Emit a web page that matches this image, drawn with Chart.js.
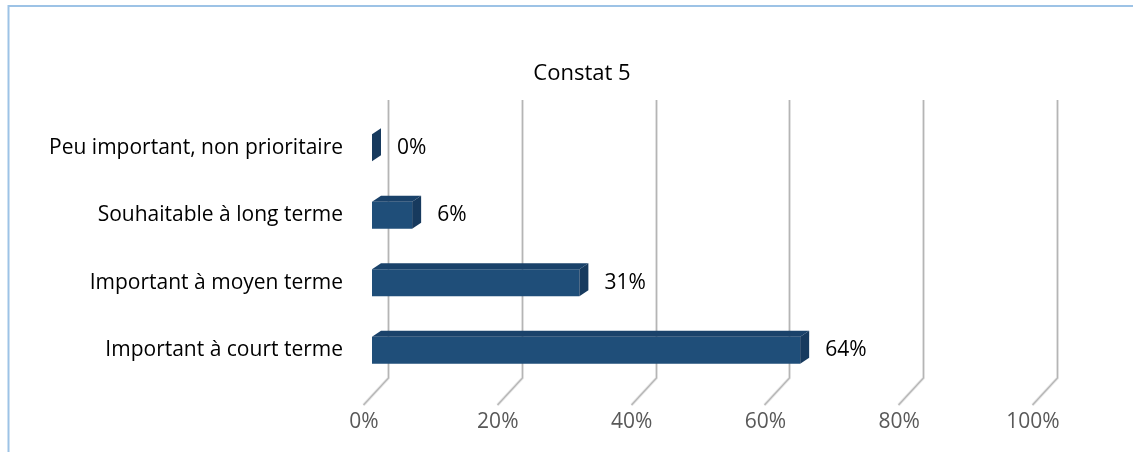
<!DOCTYPE html>
<html>
<head>
<meta charset="utf-8">
<script src="https://cdn.jsdelivr.net/npm/chart.js@4"></script>
<style>
  html, body { margin: 0; padding: 0; background: #fff; }
  #wrap { width: 1133px; height: 452px; }
</style>
</head>
<body>
<div id="wrap"><canvas id="barChart" width="1133" height="452"></canvas></div>
<script>
var title = 'Constat 5';
var categories = ['Peu important, non prioritaire', 'Souhaitable à long terme', 'Important à moyen terme', 'Important à court terme'];
var values = [0, 6, 31, 64];
var tickValues = [0, 20, 40, 60, 80, 100];

var FONT = '"Open Sans"';

// frame, title, gridlines in perspective and 3D faces of the bars
var depthPlugin = {
	id: 'depth',
	beforeDraw: function(chart) {
		var ctx = chart.ctx;
		ctx.save();
		ctx.fillStyle = '#ffffff';
		ctx.fillRect(0, 0, chart.width, chart.height);
		ctx.strokeStyle = '#9dc3e6';
		ctx.lineWidth = 2;
		ctx.beginPath();
		ctx.moveTo(8.5, chart.height);
		ctx.lineTo(8.5, 6);
		ctx.lineTo(chart.width, 6);
		ctx.stroke();
		ctx.fillStyle = '#000000';
		ctx.font = '22px ' + FONT;
		ctx.textAlign = 'center';
		ctx.textBaseline = 'middle';
		ctx.fillText(title, 582, 74);
		ctx.restore();
	},
	beforeDatasetsDraw: function(chart) {
		var ctx = chart.ctx;
		var x = chart.scales.x;
		ctx.save();
		tickValues.forEach(function(v) {
			var px = Math.round(x.getPixelForValue(v));
			ctx.beginPath();
			ctx.moveTo(px + 16.5, 100);
			ctx.lineTo(px + 16.5, 378);
			ctx.lineTo(px - 8.5, 405);
			ctx.strokeStyle = '#e6e6e6';
			ctx.lineWidth = 3;
			ctx.stroke();
			ctx.strokeStyle = '#b5b5b5';
			ctx.lineWidth = 1.2;
			ctx.stroke();
		});
		ctx.restore();
	},
	afterDatasetsDraw: function(chart) {
		var ctx = chart.ctx;
		var meta = chart.getDatasetMeta(0);
		var dx = 9, dy = 6;
		ctx.save();
		meta.data.forEach(function(bar, i) {
			var left = bar.base, right = bar.x;
			var top = bar.y - bar.height / 2, bottom = bar.y + bar.height / 2;
			// top face
			ctx.fillStyle = '#1a426a';
			ctx.beginPath();
			ctx.moveTo(left, top);
			ctx.lineTo(left + dx, top - dy);
			ctx.lineTo(right + dx, top - dy);
			ctx.lineTo(right, top);
			ctx.closePath();
			ctx.fill();
			// side face
			ctx.fillStyle = '#173a5e';
			ctx.beginPath();
			ctx.moveTo(right, top);
			ctx.lineTo(right + dx, top - dy);
			ctx.lineTo(right + dx, bottom - dy);
			ctx.lineTo(right, bottom);
			ctx.closePath();
			ctx.fill();
			// value label
			ctx.fillStyle = '#000000';
			ctx.font = '21px ' + FONT;
			ctx.textAlign = 'left';
			ctx.textBaseline = 'middle';
			ctx.fillText(values[i] + '%', right + 25, bar.y);
		});
		ctx.restore();
	}
};

var barChartCtx = document.getElementById('barChart').getContext('2d');

var barChart = new Chart(barChartCtx, {
	type: 'bar',
	data: {
		labels: categories,
		datasets: [{
			data: values,
			backgroundColor: '#1f4e79',
			borderWidth: 0,
			barPercentage: 0.4,
			categoryPercentage: 1
		}]
	},
	options: {
		indexAxis: 'y',
		responsive: false,
		animation: false,
		layout: { padding: { left: 20, right: 92, top: 114, bottom: 0 } },
		plugins: {
			legend: { display: false },
			tooltip: { enabled: false },
			title: { display: false }
		},
		scales: {
			x: {
				min: 0,
				max: 100,
				afterFit: function(scale) { scale.height = 68; },
				grid: { display: false, drawTicks: false },
				border: { display: false },
				ticks: {
					stepSize: 20,
					color: '#595959',
					padding: 25,
					labelOffset: -8,
					font: { family: FONT, size: 21 },
					callback: function(v) { return v + '%'; }
				}
			},
			y: {
				afterFit: function(scale) { scale.width = 352; },
				grid: { display: false, drawTicks: false },
				border: { display: false },
				ticks: {
					color: '#000000',
					padding: 29,
					font: { family: FONT, size: 21 }
				}
			}
		}
	},
	plugins: [depthPlugin]
});
</script>
</body>
</html>
